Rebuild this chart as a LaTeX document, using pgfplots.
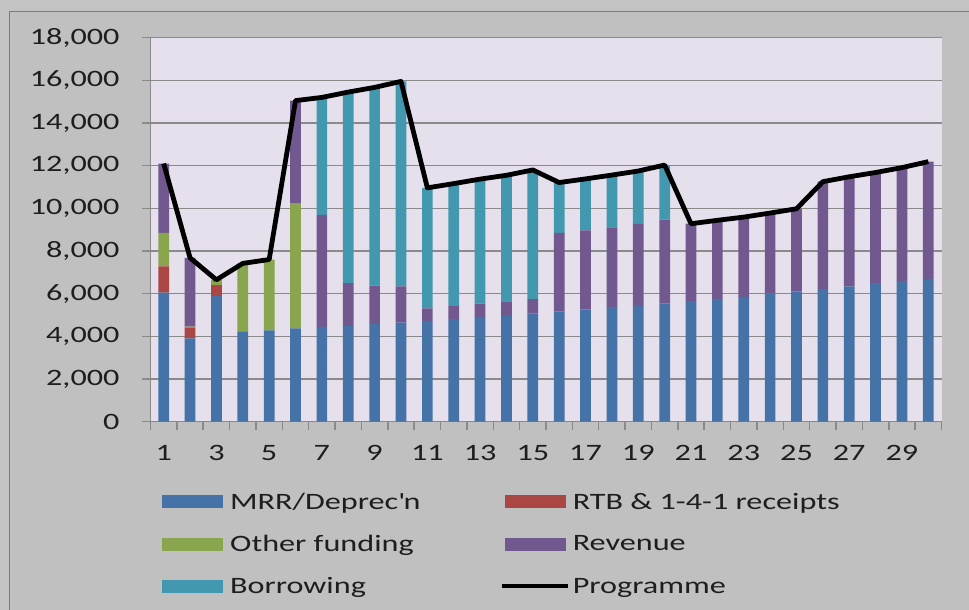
\documentclass[border=0pt]{standalone}
\usepackage{pgfplots}
\usepackage{pgfplotstable}
\pgfplotsset{compat=1.18}
\usepackage{fontspec}
\setmainfont{Carlito}[FakeStretch=1.37]
\definecolor{cMRR}{HTML}{4572A7}
\definecolor{cRTB}{HTML}{AA4643}
\definecolor{cOther}{HTML}{89A54E}
\definecolor{cRev}{HTML}{71588F}
\definecolor{cBor}{HTML}{4198AF}
\definecolor{plotbg}{HTML}{E6E0EC}
\definecolor{outbg}{HTML}{C0C0C0}
\definecolor{gridc}{HTML}{8A8A8A}
\definecolor{txt}{HTML}{1E1E1E}

\pgfplotstableread{
x mrr rtb other rev bor prog
1 6050 1230 1570 3250 0 12100
2 3900 500 60 3220 0 7680
3 5900 500 250 0 0 6650
4 4230 0 3190 0 0 7420
5 4280 0 3320 0 0 7600
6 4370 0 5850 4830 0 15050
7 4430 0 0 5270 5500 15200
8 4480 0 0 2010 8960 15450
9 4590 0 0 1790 9290 15670
10 4640 0 0 1700 9610 15950
11 4730 0 0 580 5650 10960
12 4810 0 0 610 5740 11160
13 4910 0 0 630 5830 11370
14 4950 0 0 690 5910 11550
15 5060 0 0 680 6060 11800
16 5170 0 0 3680 2360 11210
17 5270 0 0 3700 2410 11380
18 5380 0 0 3730 2450 11560
19 5430 0 0 3840 2480 11750
20 5540 0 0 3930 2560 12030
21 5650 0 0 3630 0 9280
22 5760 0 0 3680 0 9440
23 5850 0 0 3740 0 9590
24 6010 0 0 3770 0 9780
25 6100 0 0 3880 0 9980
26 6230 0 0 5020 0 11250
27 6340 0 0 5140 0 11480
28 6490 0 0 5190 0 11680
29 6590 0 0 5320 0 11910
30 6700 0 0 5490 0 12190
}\datatable

\pgfplotsset{
  commonax/.style={
    at={(150.5bp,188.3bp)}, anchor=south west,
    scale only axis, width=791bp, height=384bp,
    xmin=0.5, xmax=30.5, ymin=0, ymax=18000,
  },
  barleg/.style={legend image code/.code={\path[draw=none,fill=none] (0bp,-6.5bp) rectangle (68.3bp,6.5bp); \fill[##1] (0bp,-6.5bp) rectangle (61bp,6.5bp);}},
}

\begin{document}
\begin{tikzpicture}[x=1bp,y=1bp]
\fill[outbg!95!white] (0,0) rectangle (969,610);
\path[use as bounding box] (0,0) rectangle (969,610);
\fill[outbg] (9.5,598.5) rectangle (980,-10);
\draw[gridc!90!black, line width=1.5bp] (9.5,-10) -- (9.5,598.5) -- (980,598.5);
\begin{axis}[
  commonax,
  ybar stacked, bar width=10.7bp,
  axis background/.style={fill=plotbg},
  axis x line*=bottom, axis y line*=left,
  axis line style={draw=gridc, line width=1.5bp},
  ymajorgrids=true, xmajorgrids=false,
  major grid style={draw=gridc, line width=1.5bp},
  ytick={0,2000,...,18000},
  xtick={1,3,...,29},
  minor xtick={0.5,1.5,...,30.5},
  tick align=outside,
  major tick length=8.5bp, minor tick length=8bp,
  major x tick style={draw=none},
  major y tick style={draw=gridc, line width=1.5bp},
  minor x tick style={draw=gridc, line width=1.5bp},
  tick label style={font=\fontsize{23.5bp}{28bp}\selectfont, text=txt},
  /pgf/number format/assume math mode=true,
  /pgf/number format/1000 sep={,},
  yticklabel style={xshift=-19bp},
  xticklabel style={yshift=-12bp},
  scaled y ticks=false,
  legend columns=2,
  legend style={draw=none, fill=none, inner sep=0pt,
    at={(axis description cs:0.01416,-0.1534)}, anchor=north west,
    font=\fontsize{23.5bp}{28bp}\selectfont, text=txt,
    column sep=0pt, row sep=0pt,
    nodes={inner sep=0pt, minimum height=42.2bp, anchor=west}},
  legend cell align=left,
  clip=false,
]
\addplot[fill=cMRR, draw=none, barleg] table[x=x, y=mrr] {\datatable};
\addlegendentry{\makebox[274.3bp][l]{MRR/Deprec\textquotesingle n}}
\addplot[fill=cRTB, draw=none, barleg] table[x=x, y=rtb] {\datatable};
\addlegendentry{RTB \& 1-4-1 receipts}
\addplot[fill=cOther, draw=none, barleg] table[x=x, y=other] {\datatable};
\addlegendentry{\makebox[274.3bp][l]{Other funding}}
\addplot[fill=cRev, draw=none, barleg] table[x=x, y=rev] {\datatable};
\addlegendentry{Revenue}
\addplot[fill=cBor, draw=none, barleg] table[x=x, y=bor] {\datatable};
\addlegendentry{\makebox[274.3bp][l]{Borrowing}}
\addlegendimage{draw=none, fill=none, legend image code/.code={\path[draw=none,fill=none] (0bp,-6.5bp) rectangle (68.3bp,6.5bp); \draw[draw=black, line width=4bp, overlay] (-2.6bp,0bp) -- (63.7bp,0bp);}}
\addlegendentry{Programme}
\end{axis}
\begin{axis}[
  commonax,
  hide axis,
  clip=false,
]
\addplot[draw=black, line width=4.8bp, line join=round, mark=none]
  table[x=x, y=prog] {\datatable};
\end{axis}
\end{tikzpicture}
\end{document}
